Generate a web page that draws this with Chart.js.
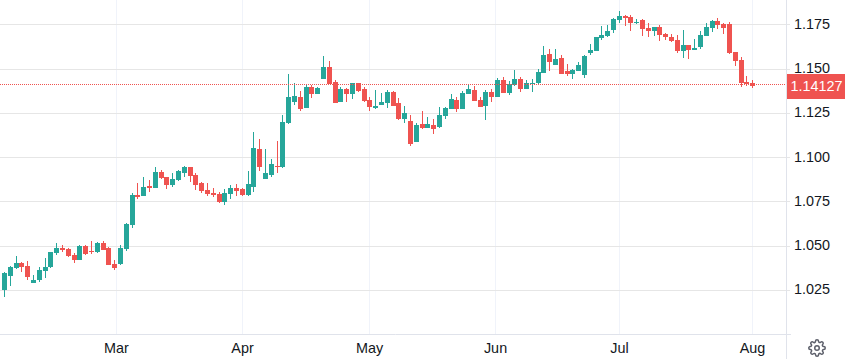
<!DOCTYPE html>
<html>
<head>
<meta charset="utf-8">
<style>
  html, body { margin: 0; padding: 0; background: #fff; overflow: hidden; }
  #wrap { position: relative; width: 845px; height: 359px; }
  #myChart { display: block; }
  #gear { position: absolute; left: 808px; top: 339px; }
</style>
<script src="https://cdn.jsdelivr.net/npm/chart.js@4"></script>
</head>
<body>
<div id="wrap">
  <canvas id="myChart" width="845" height="359"></canvas>
  <svg id="gear" width="18" height="18" viewBox="0 0 24 24" fill="none" stroke="#5d606b" stroke-width="2">
    <circle cx="12" cy="12" r="3"></circle>
    <path d="M19.4 15a1.65 1.65 0 0 0 .33 1.82l.06.06a2 2 0 0 1 0 2.83 2 2 0 0 1-2.83 0l-.06-.06a1.65 1.65 0 0 0-1.82-.33 1.65 1.65 0 0 0-1 1.51V21a2 2 0 0 1-2 2 2 2 0 0 1-2-2v-.09A1.65 1.65 0 0 0 9 19.4a1.65 1.65 0 0 0-1.82.33l-.06.06a2 2 0 0 1-2.83 0 2 2 0 0 1 0-2.83l.06-.06a1.65 1.65 0 0 0 .33-1.82 1.65 1.65 0 0 0-1.51-1H3a2 2 0 0 1-2-2 2 2 0 0 1 2-2h.09A1.65 1.65 0 0 0 4.6 9a1.65 1.65 0 0 0-.33-1.82l-.06-.06a2 2 0 0 1 0-2.83 2 2 0 0 1 2.83 0l.06.06a1.65 1.65 0 0 0 1.82.33H9a1.65 1.65 0 0 0 1-1.51V3a2 2 0 0 1 2-2 2 2 0 0 1 2 2v.09a1.65 1.65 0 0 0 1 1.51 1.65 1.65 0 0 0 1.82-.33l.06-.06a2 2 0 0 1 2.83 0 2 2 0 0 1 0 2.83l-.06.06a1.65 1.65 0 0 0-.33 1.82V9a1.65 1.65 0 0 0 1.51 1H21a2 2 0 0 1 2 2 2 2 0 0 1-2 2h-.09a1.65 1.65 0 0 0-1.51 1z"></path>
  </svg>
</div>
<script>
// daily candles, oldest first
var opens = [
  1.0254,1.0333,1.0379,1.0407,1.0390,1.0294,1.0311,1.0362,1.0384,1.0463,
  1.0492,1.0486,1.0452,1.0424,1.0503,1.0475,1.0469,1.0520,1.0492,1.0401,
  1.0401,1.0486,1.0622,1.0791,1.0786,1.0842,1.0831,1.0921,1.0893,1.0848,
  1.0876,1.0915,1.0949,1.0904,1.0859,1.0819,1.0803,1.0797,1.0752,1.0797,
  1.0831,1.0825,1.0791,1.0836,1.1051,1.0882,1.0904,1.0955,1.0949,1.1198,
  1.1317,1.1345,1.1283,1.1401,1.1362,1.1447,1.1514,1.1430,1.1317,1.1390,
  1.1362,1.1424,1.1390,1.1328,1.1283,1.1300,1.1311,1.1373,1.1311,1.1221,
  1.1209,1.1091,1.1192,1.1170,1.1187,1.1175,1.1238,1.1277,1.1328,1.1277,
  1.1362,1.1384,1.1328,1.1294,1.1373,1.1345,1.1441,1.1367,1.1413,1.1447,
  1.1390,1.1418,1.1424,1.1480,1.1588,1.1526,1.1565,1.1492,1.1475,1.1492,
  1.1469,1.1594,1.1605,1.1678,1.1690,1.1723,1.1780,1.1803,1.1797,1.1763,
  1.1780,1.1735,1.1718,1.1740,1.1701,1.1684,1.1667,1.1605,1.1639,1.1610,
  1.1627,1.1690,1.1735,1.1774,1.1757,1.1757,1.1599,1.1554,1.1430,1.1424
];
var highs = [
  1.0356,1.0390,1.0447,1.0413,1.0418,1.0339,1.0384,1.0435,1.0469,1.0520,
  1.0509,1.0492,1.0463,1.0509,1.0509,1.0531,1.0526,1.0531,1.0497,1.0424,
  1.0509,1.0633,1.0803,1.0859,1.0893,1.0876,1.0949,1.0932,1.0893,1.0915,
  1.0932,1.0955,1.0949,1.0915,1.0865,1.0859,1.0831,1.0808,1.0825,1.0848,
  1.0853,1.0831,1.0927,1.1147,1.1108,1.1051,1.0995,1.1096,1.1243,1.1475,
  1.1424,1.1379,1.1418,1.1413,1.1401,1.1577,1.1548,1.1441,1.1401,1.1396,
  1.1424,1.1424,1.1401,1.1345,1.1384,1.1367,1.1384,1.1379,1.1339,1.1294,
  1.1243,1.1198,1.1266,1.1232,1.1221,1.1288,1.1288,1.1362,1.1345,1.1379,
  1.1418,1.1407,1.1345,1.1384,1.1390,1.1452,1.1458,1.1435,1.1497,1.1458,
  1.1441,1.1447,1.1503,1.1633,1.1616,1.1616,1.1582,1.1531,1.1503,1.1543,
  1.1582,1.1644,1.1684,1.1746,1.1752,1.1791,1.1831,1.1808,1.1808,1.1786,
  1.1786,1.1763,1.1740,1.1752,1.1706,1.1701,1.1695,1.1723,1.1639,1.1673,
  1.1718,1.1763,1.1780,1.1791,1.1763,1.1769,1.1599,1.1571,1.1464,1.1441
];
var lows = [
  1.0215,1.0277,1.0373,1.0356,1.0311,1.0294,1.0300,1.0322,1.0379,1.0452,
  1.0469,1.0441,1.0407,1.0424,1.0452,1.0458,1.0463,1.0480,1.0396,1.0367,
  1.0396,1.0475,1.0605,1.0769,1.0786,1.0808,1.0831,1.0882,1.0825,1.0836,
  1.0870,1.0893,1.0865,1.0819,1.0803,1.0786,1.0780,1.0746,1.0735,1.0769,
  1.0786,1.0786,1.0786,1.0808,1.0927,1.0882,1.0893,1.0915,1.0944,1.1192,
  1.1300,1.1266,1.1283,1.1339,1.1362,1.1447,1.1418,1.1311,1.1317,1.1317,
  1.1334,1.1373,1.1317,1.1266,1.1277,1.1300,1.1283,1.1294,1.1215,1.1198,
  1.1068,1.1091,1.1164,1.1170,1.1136,1.1170,1.1221,1.1277,1.1260,1.1277,
  1.1362,1.1322,1.1288,1.1215,1.1317,1.1345,1.1367,1.1356,1.1407,1.1373,
  1.1390,1.1373,1.1413,1.1480,1.1492,1.1526,1.1475,1.1464,1.1447,1.1492,
  1.1452,1.1582,1.1605,1.1667,1.1684,1.1706,1.1763,1.1746,1.1718,1.1757,
  1.1690,1.1684,1.1690,1.1661,1.1667,1.1656,1.1594,1.1565,1.1560,1.1610,
  1.1616,1.1690,1.1712,1.1729,1.1701,1.1588,1.1520,1.1401,1.1407,1.1396
];
var closes = [
  1.0350,1.0384,1.0407,1.0384,1.0328,1.0311,1.0367,1.0384,1.0469,1.0492,
  1.0480,1.0447,1.0424,1.0503,1.0458,1.0469,1.0520,1.0480,1.0396,1.0379,
  1.0492,1.0627,1.0791,1.0780,1.0836,1.0831,1.0921,1.0887,1.0848,1.0882,
  1.0927,1.0949,1.0899,1.0848,1.0814,1.0797,1.0791,1.0752,1.0803,1.0831,
  1.0814,1.0791,1.0853,1.1057,1.0949,1.0915,1.0966,1.0949,1.1204,1.1345,
  1.1351,1.1277,1.1401,1.1362,1.1396,1.1514,1.1418,1.1311,1.1390,1.1362,
  1.1424,1.1379,1.1322,1.1288,1.1294,1.1317,1.1373,1.1294,1.1221,1.1255,
  1.1079,1.1187,1.1170,1.1192,1.1164,1.1243,1.1283,1.1334,1.1277,1.1367,
  1.1390,1.1322,1.1288,1.1373,1.1345,1.1441,1.1367,1.1418,1.1447,1.1390,
  1.1424,1.1424,1.1486,1.1582,1.1543,1.1560,1.1475,1.1475,1.1497,1.1526,
  1.1577,1.1610,1.1684,1.1695,1.1718,1.1786,1.1803,1.1791,1.1763,1.1769,
  1.1729,1.1718,1.1740,1.1695,1.1684,1.1661,1.1605,1.1639,1.1610,1.1622,
  1.1695,1.1740,1.1774,1.1752,1.1735,1.1594,1.1548,1.1424,1.1418,1.1407
];

// month ticks, in candle number units
var monthNames = ['Mar', 'Apr', 'May', 'Jun', 'Jul', 'Aug'];
var monthPositions = [19.31, 41.03, 62.93, 84.66, 106.03, 128.97];
var priceTicks = [1.025, 1.05, 1.075, 1.1, 1.125, 1.15, 1.175];
var lastPrice = 1.14127;

var UP = '#26a69a';
var DOWN = '#ef5350';
var TEXT = '#131722';
var FONT = '"Liberation Sans", Arial, sans-serif';

var bodies = [];
var wicks = [];
var colors = [];
for (var i = 0; i < opens.length; i++) {
  bodies.push({ x: i, y: [opens[i], closes[i]] });
  wicks.push({ x: i, y: [lows[i], highs[i]] });
  colors.push(closes[i] >= opens[i] ? UP : DOWN);
}

// candles need to sit on whole pixels or they go blurry
var snapPlugin = {
  id: 'snap',
  beforeDatasetsDraw: function (chart) {
    chart.data.datasets.forEach(function (ds, d) {
      chart.getDatasetMeta(d).data.forEach(function (bar) {
        var top = Math.round(Math.min(bar.y, bar.base));
        var bottom = Math.round(Math.max(bar.y, bar.base));
        if (bottom === top) bottom = top + 1;
        bar.x = Math.floor(bar.x) + 0.5;
        bar.y = top;
        bar.base = bottom;
      });
    });
  }
};

var framePlugin = {
  id: 'frame',
  beforeDraw: function (chart) {
    var c = chart.ctx;
    c.save();
    c.fillStyle = '#fff';
    c.fillRect(0, 0, chart.width, chart.height);
    c.restore();
  },
  afterDraw: function (chart) {
    var c = chart.ctx;
    var area = chart.chartArea;
    var y = Math.floor(chart.scales.y.getPixelForValue(lastPrice)) + 0.5;

    c.save();
    // axis lines run past the plot area
    c.strokeStyle = '#e0e3eb';
    c.lineWidth = 1;
    c.beginPath();
    c.moveTo(area.right + 0.5, 0);
    c.lineTo(area.right + 0.5, chart.height);
    c.moveTo(0, area.bottom + 0.5);
    c.lineTo(area.right + 5, area.bottom + 0.5);
    c.stroke();

    // last price line and its tag
    c.strokeStyle = DOWN;
    c.setLineDash([1, 1]);
    c.beginPath();
    c.moveTo(0, y);
    c.lineTo(area.right, y);
    c.stroke();
    c.setLineDash([]);

    c.fillStyle = DOWN;
    c.fillRect(area.right + 1, y - 10.5, chart.width - area.right - 1, 25);
    c.fillStyle = '#fff';
    c.font = '14.4px ' + FONT;
    c.textAlign = 'center';
    c.textBaseline = 'middle';
    c.fillText(lastPrice.toFixed(5), area.right + 30.5, y + 2.5);
    c.restore();
  }
};

var canvas = document.getElementById('myChart');
var ctx = canvas.getContext('2d', { alpha: false });

var chart = new Chart(ctx, {
  type: 'bar',
  data: {
    datasets: [
      {
        data: bodies,
        backgroundColor: colors,
        grouped: false,
        barPercentage: 1,
        categoryPercentage: 1,
        maxBarThickness: 5,
        inflateAmount: 0
      },
      {
        data: wicks,
        backgroundColor: colors,
        grouped: false,
        barPercentage: 1,
        categoryPercentage: 1,
        maxBarThickness: 1,
        inflateAmount: 0
      }
    ]
  },
  options: {
    responsive: false,
    animation: false,
    events: [],
    layout: { padding: 0 },
    plugins: {
      legend: { display: false },
      tooltip: { enabled: false }
    },
    scales: {
      x: {
        type: 'linear',
        bounds: 'data',
        min: -0.77586,
        max: 134.741,
        offset: false,
        grid: { color: '#f0f3fa', drawTicks: false, offset: false },
        border: { display: false },
        afterBuildTicks: function (axis) {
          axis.ticks = monthPositions.map(function (v) { return { value: v }; });
        },
        afterFit: function (axis) {
          axis.height = 25;
          axis.paddingLeft = 0;
          axis.paddingRight = 0;
        },
        ticks: {
          autoSkip: false,
          maxRotation: 0,
          padding: 6,
          color: TEXT,
          font: { family: FONT, size: 14.4 },
          callback: function (v, idx) { return monthNames[idx]; }
        }
      },
      y: {
        position: 'right',
        bounds: 'data',
        min: 1.000367,
        max: 1.18907,
        grid: { color: '#e6e6e6', tickLength: 4 },
        border: { display: false },
        afterBuildTicks: function (axis) {
          axis.ticks = priceTicks.map(function (v) { return { value: v }; });
        },
        afterFit: function (axis) {
          axis.width = 59;
          axis.paddingTop = 0;
          axis.paddingBottom = 0;
        },
        ticks: {
          autoSkip: false,
          padding: 4,
          color: TEXT,
          font: { family: FONT, size: 14.4 },
          callback: function (v) { return v.toFixed(3); }
        }
      }
    }
  },
  plugins: [framePlugin, snapPlugin]
});
</script>
</body>
</html>
